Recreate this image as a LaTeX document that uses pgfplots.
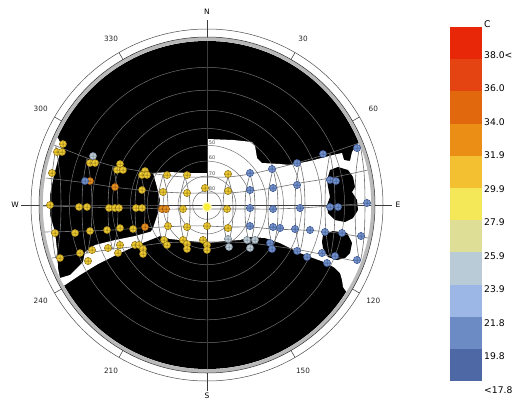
\documentclass[border=0pt]{standalone}
\usepackage{pgfplots}
\pgfplotsset{compat=1.18}
\usepackage{fontspec}
\setmainfont{DejaVu Sans}
\definecolor{c1}{RGB}{232,38,8}
\definecolor{c2}{RGB}{228,68,18}
\definecolor{c3}{RGB}{226,104,14}
\definecolor{c4}{RGB}{234,142,22}
\definecolor{c5}{RGB}{243,192,50}
\definecolor{c6}{RGB}{245,232,88}
\definecolor{c7}{RGB}{222,222,150}
\definecolor{c8}{RGB}{184,203,214}
\definecolor{c9}{RGB}{156,182,230}
\definecolor{c10}{RGB}{108,138,196}
\definecolor{c11}{RGB}{78,104,166}
\definecolor{dotY}{RGB}{240,206,52}
\definecolor{dotYd}{RGB}{140,112,20}
\definecolor{dotO}{RGB}{236,150,36}
\definecolor{dotOd}{RGB}{140,75,10}
\definecolor{dotB}{RGB}{118,148,204}
\definecolor{dotBd}{RGB}{55,82,140}
\definecolor{dotP}{RGB}{196,208,214}
\definecolor{dotPd}{RGB}{105,122,140}
\definecolor{gridc}{RGB}{112,112,112}
\definecolor{linec}{RGB}{60,60,60}
\definecolor{centre}{RGB}{250,240,60}
\definecolor{centreo}{RGB}{255,250,200}
\tikzset{az/.style={font=\fontsize{7.3}{9}\selectfont,text=black!85},
  cp/.style={font=\fontsize{7.5}{9}\selectfont},
  alt/.style={font=\fontsize{5}{6}\selectfont,text=gray!60!black,inner sep=0pt},
  lg/.style={font=\fontsize{9.2}{11}\selectfont,anchor=west,inner sep=0pt},
  tk/.style={gray!40!black,line width=0.5pt},
  gc/.style={gridc,line width=0.5pt}}
\begin{document}
\begin{tikzpicture}
\begin{axis}[width=529pt,height=401pt,scale only axis,
  xmin=0,xmax=529,ymin=0,ymax=401,y dir=reverse,
  axis lines=none,ticks=none,clip=false]

% keep the full page
\path (axis cs:0,0) rectangle (axis cs:529,401);

% sky disk (obstructed = black)
\fill[black] (axis cs:207,205) circle[radius=164pt];

% visible sky: central and east band
\addplot[fill=white,draw=none,mark=none,forget plot] coordinates {
(150,233) (153,228) (158,213) (160,200) (157,187) (153,173) (170,172) (187,173)
(205,173) (207,173) (207,139) (233,140) (252,142) (255,146) (257,158) (262,163)
(280,164) (290,165) (310,161) (333,155) (342,153) (344,160) (350,161) (352,152)
(356,146) (362,138) (395,120) (395,300) (352,300) (343,287) (342,280) (340,273)
(335,268) (327,263) (313,258) (300,253) (290,248) (280,243) (265,238) (250,237)
(240,240) (225,241) (207,243) (190,241) (170,239) (160,236)} -- cycle;

% visible sky: west edge strip and diagonal strip
\addplot[fill=white,draw=none,mark=none,forget plot] coordinates {
(30,130) (58,138) (62,146) (58,160) (54,175) (50,195) (50,215) (55,232)
(57,250) (58,268) (60,278) (70,275) (83,262) (85,252) (95,245) (115,240)
(135,236) (153,231) (160,236) (140,244) (118,254) (98,264) (80,275) (65,285)
(55,293) (30,300)} -- cycle;

% obstructions inside the east band
\addplot[fill=black,draw=none,mark=none,forget plot] coordinates {
(330,170) (338,167) (348,170) (353,177) (355,187) (352,192) (357,200) (358,210)
(353,218) (345,222) (335,220) (328,213) (327,205) (330,197) (328,187) (327,180)} -- cycle;
\addplot[fill=black,draw=none,mark=none,forget plot] coordinates {
(323,235) (333,231) (347,233) (352,243) (350,253) (345,258) (337,260) (328,257)
(323,248) (322,242)} -- cycle;

% altitude circles
\draw[gc] (axis cs:207,205) circle[radius=14.3pt];
\draw[gc] (axis cs:207,205) circle[radius=28.9pt];
\draw[gc] (axis cs:207,205) circle[radius=43.9pt];
\draw[gc] (axis cs:207,205) circle[radius=59.7pt];
\draw[gc] (axis cs:207,205) circle[radius=76.5pt];
\draw[gc] (axis cs:207,205) circle[radius=94.7pt];
\draw[gc] (axis cs:207,205) circle[radius=114.8pt];
\draw[gc] (axis cs:207,205) circle[radius=137.6pt];

% compass lines
\draw[linec,line width=0.6pt] (axis cs:207,20) -- (axis cs:207,391);
\draw[linec,line width=0.6pt] (axis cs:21,205) -- (axis cs:392,205);

% sun-path date lines
\addplot[gridc,line width=0.6pt,smooth,mark=none,forget plot] coordinates {
(54,145) (87,158) (113,166) (140,171) (163,175) (185,177) (207,177) (228,177) (250,174) (273,169) (300,162) (330,153) (362,142)};
\addplot[gridc,line width=0.6pt,smooth,mark=none,forget plot] coordinates {
(46,178) (87,183) (113,187) (140,190) (163,192) (185,193) (207,193) (228,193) (250,191) (273,188) (300,183) (330,178) (368,170)};
\addplot[gridc,line width=0.6pt,smooth,mark=none,forget plot] coordinates {
(43,206) (87,207) (113,208) (140,208) (163,209) (185,209) (207,209) (228,209) (250,209) (273,209) (300,208) (330,206) (371,203)};
\addplot[gridc,line width=0.6pt,smooth,mark=none,forget plot] coordinates {
(45,232) (87,231) (113,230) (140,228) (163,227) (185,226) (207,226) (228,227) (250,227) (273,229) (300,230) (330,232) (368,238)};
\addplot[gridc,line width=0.6pt,smooth,mark=none,forget plot] coordinates {
(52,258) (87,253) (113,249) (140,246) (163,243) (185,242) (207,242) (228,242) (250,243) (273,246) (300,250) (330,256) (360,262)};

% sun-path hour loops
\addplot[gridc,line width=0.6pt,smooth,mark=none,forget plot] coordinates {(56,146) (60,176) (61,206) (60,232) (56,258) (52,232) (51,206) (52,176) (56,146)};
\addplot[gridc,line width=0.6pt,smooth,mark=none,forget plot] coordinates {(87,158) (91,183) (92,207) (91,231) (87,253) (83,231) (82,207) (83,183) (87,158)};
\addplot[gridc,line width=0.6pt,smooth,mark=none,forget plot] coordinates {(113,166) (117,187) (118,208) (117,230) (113,249) (109,230) (108,208) (109,187) (113,166)};
\addplot[gridc,line width=0.6pt,smooth,mark=none,forget plot] coordinates {(140,171) (144,190) (145,208) (144,228) (140,246) (136,228) (135,208) (136,190) (140,171)};
\addplot[gridc,line width=0.6pt,smooth,mark=none,forget plot] coordinates {(163,175) (167,192) (168,209) (167,227) (163,243) (159,227) (158,209) (159,192) (163,175)};
\addplot[gridc,line width=0.6pt,smooth,mark=none,forget plot] coordinates {(185,177) (189,193) (190,209) (189,226) (185,242) (181,226) (180,209) (181,193) (185,177)};
\addplot[gridc,line width=0.6pt,smooth,mark=none,forget plot] coordinates {(228,177) (232,193) (233,209) (232,227) (228,242) (224,227) (223,209) (224,193) (228,177)};
\addplot[gridc,line width=0.6pt,smooth,mark=none,forget plot] coordinates {(250,174) (254,191) (255,209) (254,227) (250,243) (246,227) (245,209) (246,191) (250,174)};
\addplot[gridc,line width=0.6pt,smooth,mark=none,forget plot] coordinates {(273,169) (277,188) (278,209) (277,229) (273,246) (269,229) (268,209) (269,188) (273,169)};
\addplot[gridc,line width=0.6pt,smooth,mark=none,forget plot] coordinates {(300,162) (304,183) (305,208) (304,230) (300,250) (296,230) (295,208) (296,183) (300,162)};
\addplot[gridc,line width=0.6pt,smooth,mark=none,forget plot] coordinates {(330,153) (334,178) (335,206) (334,232) (330,256) (326,232) (325,206) (326,178) (330,153)};
\addplot[gridc,line width=0.6pt,smooth,mark=none,forget plot] coordinates {(360,143) (364,172) (365,204) (364,237) (360,261) (356,237) (355,204) (356,172) (360,143)};

% measured points: yellow
\addplot[only marks,mark=oplus*,mark size=3.6pt,mark options={fill=dotY,draw=dotYd,line width=0.5pt},forget plot] coordinates {
(63,144) (57,152) (62,152) (90,163) (95,163) (120,164) (117,170) (123,170)
(145,171) (142,175) (147,175) (167,175) (52,173) (142,190) (163,192)
(50,205) (79,207) (87,207) (109,208) (115,208) (119,208) (136,208) (142,208)
(55,233) (75,233) (90,231) (107,230) (120,228) (133,229)
(60,258) (80,253) (92,250) (108,248) (120,245) (118,253) (135,245) (139,245)
(143,249) (143,254) (88,261)
(187,175) (228,174) (187,193) (205,188) (228,191) (183,209) (227,209)
(168,226) (187,227) (207,226) (228,228) (164,240) (167,245) (183,240)
(187,244) (187,249) (203,240) (207,245) (207,250)};
% orange
\addplot[only marks,mark=oplus*,mark size=3.6pt,mark options={fill=dotO,draw=dotOd,line width=0.5pt},forget plot] coordinates {
(90,181) (115,187) (162,209) (166,209) (145,227)};
% pale
\addplot[only marks,mark=oplus*,mark size=3.6pt,mark options={fill=dotP,draw=dotPd,line width=0.5pt},forget plot] coordinates {
(93,156) (228,239) (229,247) (247,240) (255,240) (250,248)};
% blue
\addplot[only marks,mark=oplus*,mark size=3.6pt,mark options={fill=dotB,draw=dotBd,line width=0.5pt},forget plot] coordinates {
(85,181)
(250,173) (272,169) (297,163) (323,154) (357,148)
(250,190) (273,188) (297,185) (330,180) (336,181)
(250,208) (273,209) (300,208) (330,207) (338,207) (367,203)
(250,226) (273,227) (280,228) (295,229) (310,230) (325,232) (342,233) (361,236)
(270,243) (272,249) (297,251) (307,257) (322,253) (335,256) (327,263) (357,260)};
% centre marker
\addplot[only marks,mark=*,mark size=4.5pt,mark options={fill=centre,draw=centreo,line width=1.2pt},forget plot] coordinates {(207,207)};

% altitude labels
\node[alt] at (axis cs:212,143) {50};
\node[alt] at (axis cs:212,158) {60};
\node[alt] at (axis cs:212,174) {70};
\node[alt] at (axis cs:212,189) {80};

% rim
\draw[gray!55,line width=3.5pt] (axis cs:207,205) circle[radius=166pt];
\draw[gray!30!black,line width=0.5pt] (axis cs:207,205) circle[radius=168pt];
\draw[gray!60!black,line width=0.5pt] (axis cs:207,205) circle[radius=176pt];
\draw[tk] (axis cs:291,59.5) -- (axis cs:295,52.6);
\draw[tk] (axis cs:352.5,121) -- (axis cs:359.4,117);
\draw[tk] (axis cs:352.5,289) -- (axis cs:359.4,293);
\draw[tk] (axis cs:291,350.5) -- (axis cs:295,357.4);
\draw[tk] (axis cs:123,350.5) -- (axis cs:119,357.4);
\draw[tk] (axis cs:61.5,289) -- (axis cs:54.6,293);
\draw[tk] (axis cs:61.5,121) -- (axis cs:54.6,117);
\draw[tk] (axis cs:123,59.5) -- (axis cs:119,52.6);
\node[az] at (axis cs:303,38.7) {30};
\node[az] at (axis cs:373.3,109) {60};
\node[az] at (axis cs:373.3,301) {120};
\node[az] at (axis cs:303,371.3) {150};
\node[az] at (axis cs:111,371.3) {210};
\node[az] at (axis cs:40.7,301) {240};
\node[az] at (axis cs:40.7,109) {300};
\node[az] at (axis cs:111,38.7) {330};
\node[cp] at (axis cs:207,12) {N};
\node[cp] at (axis cs:207,396) {S};
\node[cp] at (axis cs:15,205) {W};
\node[cp] at (axis cs:398,205) {E};

% colour scale
\fill[c1] (axis cs:450,27.0) rectangle (axis cs:482,59.2);
\fill[c2] (axis cs:450,59.2) rectangle (axis cs:482,91.4);
\fill[c3] (axis cs:450,91.4) rectangle (axis cs:482,123.6);
\fill[c4] (axis cs:450,123.6) rectangle (axis cs:482,155.8);
\fill[c5] (axis cs:450,155.8) rectangle (axis cs:482,188.0);
\fill[c6] (axis cs:450,188.0) rectangle (axis cs:482,220.2);
\fill[c7] (axis cs:450,220.2) rectangle (axis cs:482,252.4);
\fill[c8] (axis cs:450,252.4) rectangle (axis cs:482,284.6);
\fill[c9] (axis cs:450,284.6) rectangle (axis cs:482,316.8);
\fill[c10] (axis cs:450,316.8) rectangle (axis cs:482,349.0);
\fill[c11] (axis cs:450,349.0) rectangle (axis cs:482,381.2);
\node[lg] at (axis cs:484,24) {C};
\node[lg] at (axis cs:484,55) {38.0<};
\node[lg] at (axis cs:484,88.5) {36.0};
\node[lg] at (axis cs:484,122) {34.0};
\node[lg] at (axis cs:484,155.5) {31.9};
\node[lg] at (axis cs:484,189) {29.9};
\node[lg] at (axis cs:484,222.5) {27.9};
\node[lg] at (axis cs:484,256) {25.9};
\node[lg] at (axis cs:484,289.5) {23.9};
\node[lg] at (axis cs:484,323) {21.8};
\node[lg] at (axis cs:484,356.5) {19.8};
\node[lg] at (axis cs:484,390) {<17.8};
\end{axis}
\end{tikzpicture}
\end{document}
